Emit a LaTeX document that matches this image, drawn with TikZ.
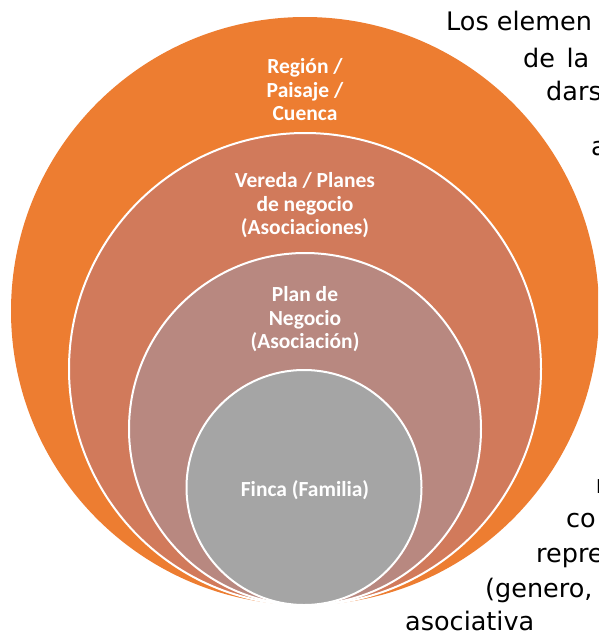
\documentclass[tikz,border=0pt]{standalone}
\usepackage{fontspec}
\setmainfont{Carlito}
\newfontfamily\verd{DejaVu Sans}
\definecolor{c1}{HTML}{ED7D31}
\definecolor{c2}{HTML}{D17A5B}
\definecolor{c3}{HTML}{B88880}
\definecolor{c4}{HTML}{A5A5A5}
\begin{document}
\begin{tikzpicture}[x=1pt,y=-1pt,
  ring/.style={circle, draw=white, line width=2pt, inner sep=0pt, minimum size=#1},
  lbl/.style={text=white, font=\bfseries\fontsize{21.5}{23.5}\selectfont, align=center, inner sep=0pt},
  para/.style={anchor=base west, inner sep=0pt, font=\verd\fontsize{25.5}{34}\selectfont, text=black}]
\useasboundingbox (0,0) rectangle (598,635);
\clip (0,0) rectangle (598,635);
% background paragraph, partly hidden by the circles
\node[para] (p1) at (446,30) {Los elemen};
\node[para] (p2) at (523,67) {de\hspace{0.45em}la};
\node[para] (p3) at (546,100) {dars};
\node[para] (p4) at (591,155) {a};
\node[para] (p5) at (595.5,493) {n};
\node[para] (p6) at (566,527) {co};
\node[para] (p7) at (536,562) {repre};
\node[para] (p8) at (485,597) {(genero,};
\node[para] (p9) at (405,630) {asociativa};
% nested circles
\node[ring=588pt, fill=c1, draw=none] (region) at (305,311) {};
\node[ring=472pt, fill=c2] (vereda) at (305,369) {};
\node[ring=352pt, fill=c3] (plan) at (305,429) {};
\node[ring=235pt, fill=c4] (finca) at (304,487.5) {};
% labels
\node[lbl] (tregion) at (305,90) {Región /\\Paisaje /\\Cuenca};
\node[lbl] (tvereda) at (305,205.5) {Vereda / Planes\\de negocio\\(Asociaciones)};
\node[lbl] (tplan) at (305,319.5) {Plan de\\Negocio\\(Asociación)};
\node[lbl] (tfinca) at (305,490) {Finca (Familia)};
\end{tikzpicture}
\end{document}
